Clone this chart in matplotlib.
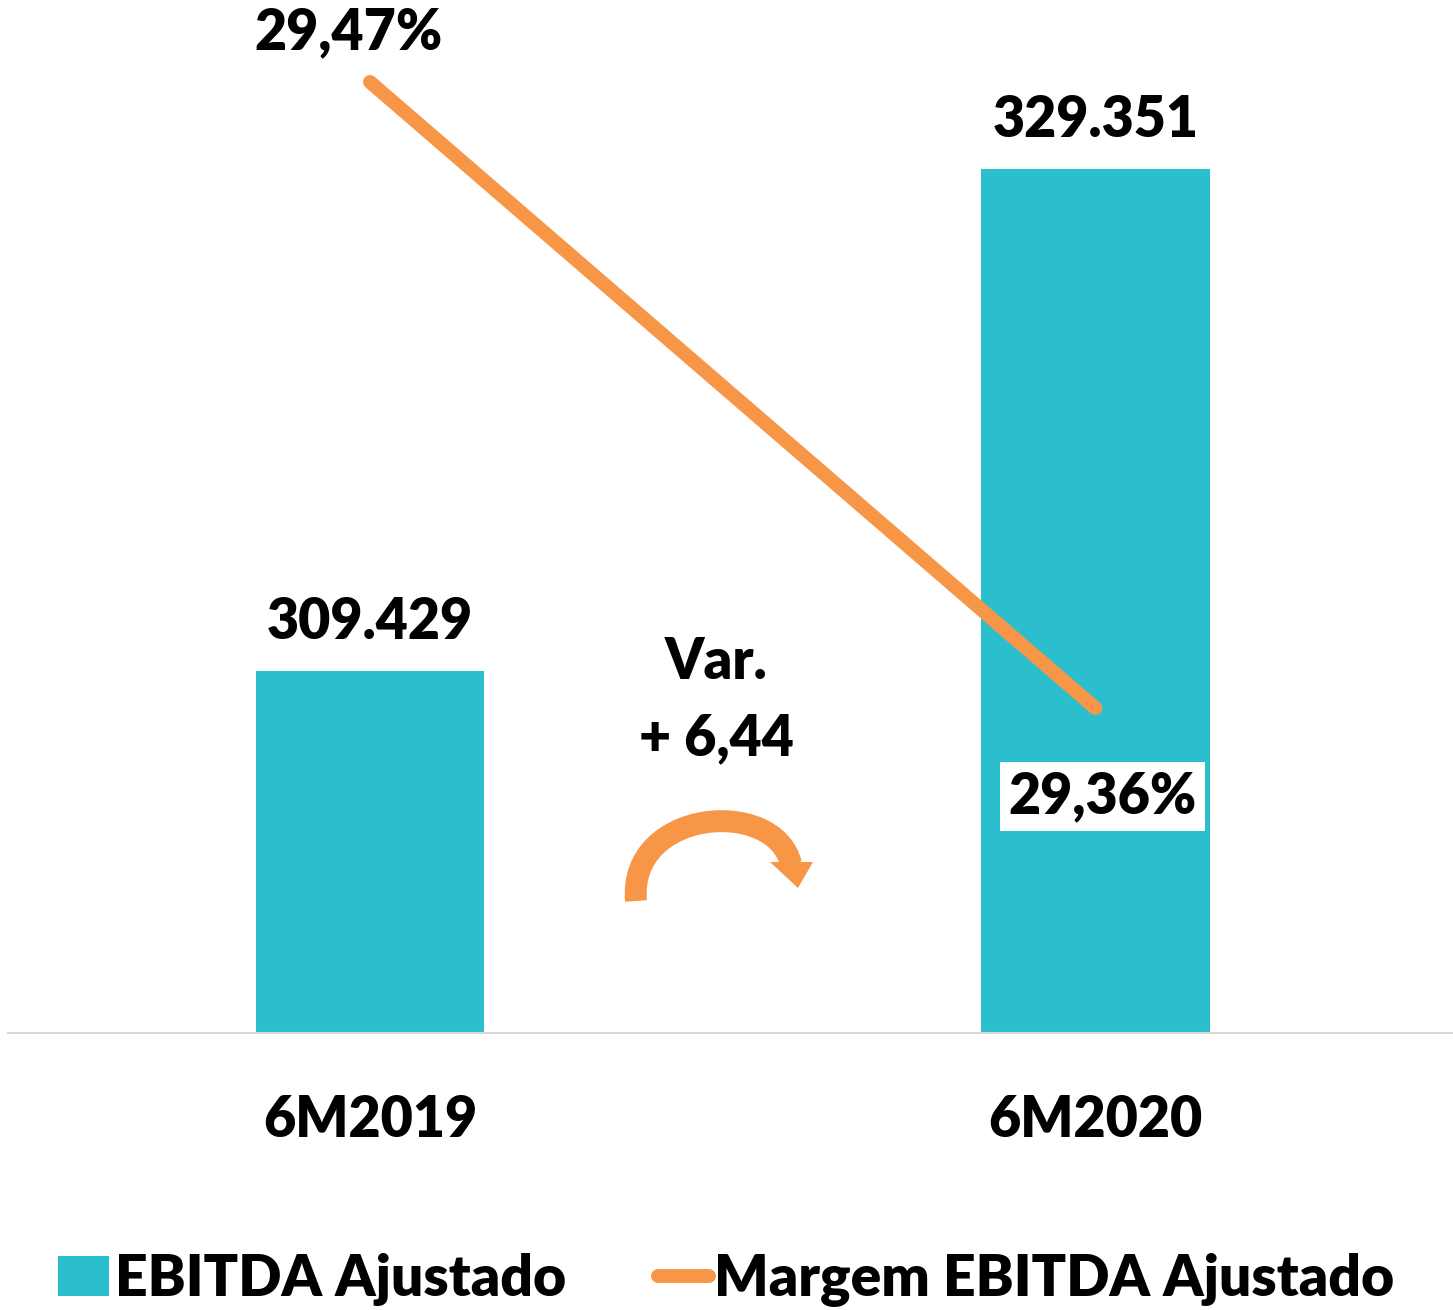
import numpy as np
import matplotlib
matplotlib.use('Agg')
import matplotlib.pyplot as plt
from matplotlib.patches import Patch, PathPatch, Polygon
from matplotlib.lines import Line2D
from matplotlib.path import Path
from matplotlib.transforms import IdentityTransform

plt.rcParams['font.family'] = ['Lato', 'DejaVu Sans']
plt.rcParams['font.weight'] = 'heavy'

periods = ['6M2019', '6M2020']
ebitda = [309.429, 329.351]
ebitda_labels = ['309.429', '329.351']
margem = [29.47, 29.36]
margem_labels = ['29,47%', '29,36%']
var_text = 'Var.\n+ 6,44'

teal = '#2BBFCD'
orange = '#F79646'
FS = 40
FW = 'heavy'

W, H = 1453, 1310
fig = plt.figure(figsize=(W / 100, H / 100), dpi=100)
ax = fig.add_axes([8 / W, 1 - 1033 / H, 1 - 8 / W, 1033 / H])

x = np.arange(len(periods))
ax.bar(x, ebitda, width=0.315, color=teal, zorder=2)
ax.set_xlim(-0.499, 1.493)
ax.set_ylim(295.06, 336.05)
for xi, v, lab in zip(x, ebitda, ebitda_labels):
    ax.text(xi, v + 0.9, lab, ha='center', va='bottom', fontsize=FS, fontweight=FW)

ax.set_xticks(x)
ax.set_xticklabels(periods, fontsize=FS, fontweight=FW)
ax.tick_params(axis='x', length=0, pad=44)
ax.set_yticks([])
for s in ['top', 'left', 'right']:
    ax.spines[s].set_visible(False)
ax.spines['bottom'].set_color('#d9d9d9')
ax.spines['bottom'].set_linewidth(1.5)

ax2 = ax.twinx()
ax2.set_ylim(29.3029, 29.4844)
ax2.plot(x, margem, color=orange, lw=10, solid_capstyle='round', zorder=3)
ax2.set_yticks([])
for s in ['top', 'left', 'right', 'bottom']:
    ax2.spines[s].set_visible(False)
ax2.text(x[0] - 0.03, margem[0] + 0.0087, margem_labels[0], ha='center', va='center',
         fontsize=FS, fontweight=FW)
ax2.text(x[1] + 0.01, margem[1] - 0.0155, margem_labels[1], ha='center', va='center',
         fontsize=FS, fontweight=FW,
         bbox=dict(facecolor='white', edgecolor='none', pad=6))

fig.text(716 / W, 1 - 700 / H, var_text, ha='center', va='center', fontsize=FS,
         fontweight=FW, linespacing=1.55)

# curved arrow (pixel coords, y measured from top)
def px(pts):
    return [(a, H - b) for a, b in pts]

arc = Path(px([(636, 901), (628, 808), (775, 797), (791, 864)]),
           [Path.MOVETO, Path.CURVE4, Path.CURVE4, Path.CURVE4])
fig.add_artist(PathPatch(arc, transform=IdentityTransform(), fill=False,
                         edgecolor=orange, lw=15.8, capstyle='butt'))
fig.add_artist(Polygon(px([(770, 862), (813, 862), (798, 888)]), closed=True,
                       transform=IdentityTransform(), facecolor=orange, edgecolor='none'))

handles = [Patch(facecolor=teal, edgecolor='none'),
           Line2D([0], [0], color=orange, lw=10, solid_capstyle='round')]
fig.legend(handles, ['EBITDA Ajustado', 'Margem EBITDA Ajustado'], loc='center',
           bbox_to_anchor=(0.5, 30 / H), ncol=2, frameon=False,
           handlelength=0.9, handletextpad=0.1, columnspacing=1.6,
           prop={'weight': FW, 'size': 41})

fig.savefig('out.png', dpi=100)
